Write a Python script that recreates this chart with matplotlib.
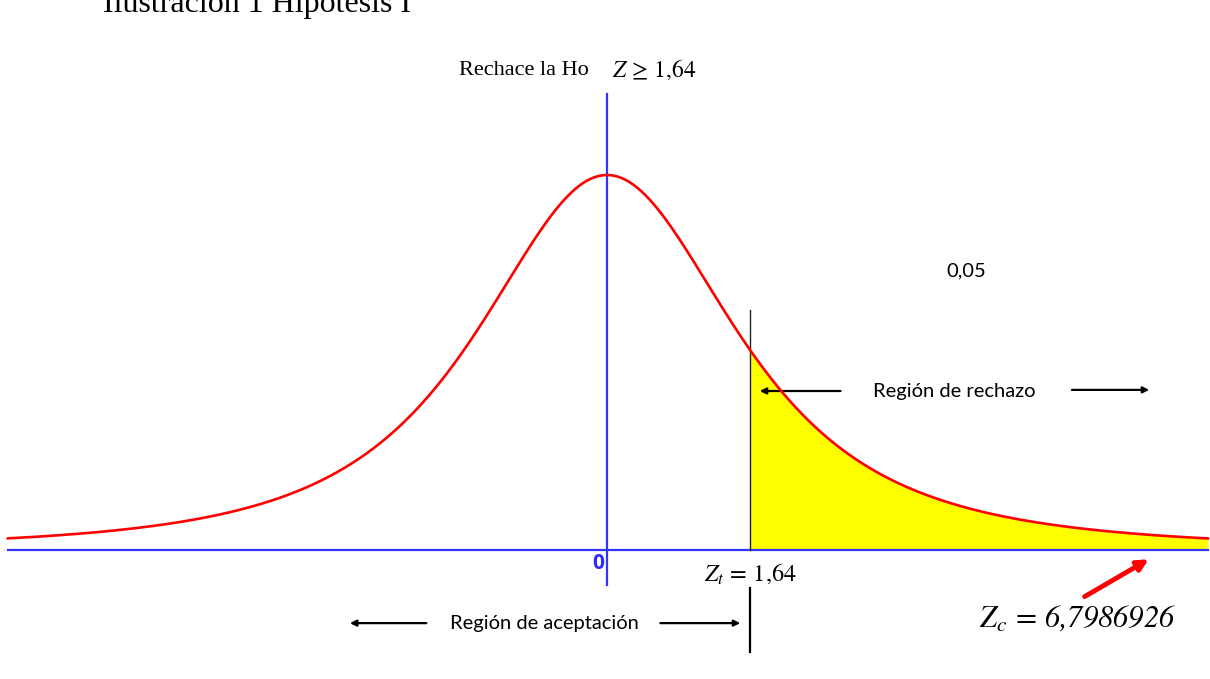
import numpy as np
import matplotlib
matplotlib.use("Agg")
import matplotlib.pyplot as plt

plt.rcParams['mathtext.fontset'] = 'stix'

# --- data ---
df_param = 2.0          # shape of the drawn bell curve (t-like, heavy tails)
scale_param = 1.608     # horizontal scale of the curve
z_min, z_max = -6.87, 6.89
z_t = 1.64              # critical value
alpha_label = "0,05"
z_c_label = r"$Z_c\,=\,$6,7986926"
title_text = "Ilustración 1 Hipótesis I"

def curve(z):
    return (1 + (z / scale_param) ** 2 / df_param) ** (-(df_param + 1) / 2)

fig = plt.figure(figsize=(12.10, 6.79), dpi=100)
ax = fig.add_axes([0, 0, 1, 1])
ax.set_xlim(-6.961, 6.915)
ax.set_ylim(-0.344, 1.4667)
ax.axis('off')

z = np.linspace(z_min, z_max, 800)
y = curve(z)

# shaded rejection region
zr = z[z >= z_t]
zz = np.concatenate([[z_t], zr])
ax.fill_between(zz, 0, curve(zz), color='#ffff00', zorder=1, linewidth=0)

# baseline and center axis
ax.plot([z_min, z_max], [0, 0], color='#3333ff', lw=1.6, zorder=2)
ax.plot([0, 0], [-0.093, 1.216], color='#3333ff', lw=1.6, zorder=2)

# critical line
ax.plot([z_t, z_t], [0, 0.64], color='#222222', lw=1.0, zorder=3)
ax.plot([z_t, z_t], [-0.101, -0.272], color='black', lw=1.6, zorder=3)

# curve
ax.plot(z, y, color='#ff0000', lw=1.9, zorder=4)

serif = ['Liberation Serif', 'DejaVu Serif']
sans = ['Lato', 'Open Sans', 'DejaVu Sans']

ax.text(1.185 - 6.961, 1.4667 - 0.031, title_text, fontsize=23, family=serif,
        ha='left', va='baseline', color='black')
ax.text(-0.21, 1.28, "Rechace la Ho", fontsize=16, family=serif,
        ha='right', va='center')
ax.text(0.06, 1.28, r"$Z\,\geq\,1{,}64$", fontsize=17, ha='left', va='center')

ax.text(4.12, 0.744, alpha_label, fontsize=14.5, family=sans, ha='center', va='center')
ax.text(3.98, 0.424, "Región de rechazo", fontsize=14.5, family=sans, ha='center', va='center')
ax.annotate("", xy=(1.72, 0.424), xytext=(2.71, 0.424),
            arrowprops=dict(arrowstyle='-|>', color='black', lw=1.6, mutation_scale=9))
ax.annotate("", xy=(6.25, 0.427), xytext=(5.3, 0.427),
            arrowprops=dict(arrowstyle='-|>', color='black', lw=1.6, mutation_scale=9))

ax.text(-0.10, -0.037, "0", fontsize=15, family=['Open Sans', 'DejaVu Sans'],
        fontweight='bold', color='#2b2bff', ha='center', va='center')
ax.text(z_t, -0.062, r"$Z_t\,=\,1{,}64$", fontsize=17.5, ha='center', va='center')

ax.text(-0.72, -0.195, "Región de aceptación", fontsize=14.5, family=sans,
        ha='center', va='center')
ax.annotate("", xy=(-2.98, -0.195), xytext=(-2.04, -0.195),
            arrowprops=dict(arrowstyle='-|>', color='black', lw=1.6, mutation_scale=9))
ax.annotate("", xy=(1.56, -0.195), xytext=(0.58, -0.195),
            arrowprops=dict(arrowstyle='-|>', color='black', lw=1.6, mutation_scale=9))

ax.annotate("", xy=(6.24, -0.021), xytext=(5.45, -0.128),
            arrowprops=dict(arrowstyle='-|>', color='#ff0000', lw=3.5, mutation_scale=16))
ax.text(5.40, -0.181, z_c_label, fontsize=22, family=['STIXGeneral', 'DejaVu Serif'],
        style='italic', ha='center', va='center')

fig.savefig("out.png", dpi=100)
